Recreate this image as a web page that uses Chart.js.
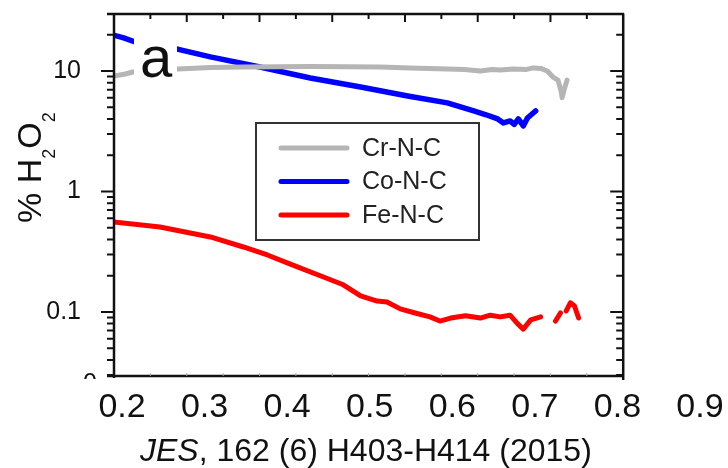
<!DOCTYPE html>
<html>
<head>
<meta charset="utf-8">
<title>% H2O2 vs potential</title>
<script src="https://cdn.jsdelivr.net/npm/chart.js@4.4.1/dist/chart.umd.min.js"></script>
<style>
  html, body { margin: 0; padding: 0; background: #fff; }
  canvas { display: block; }
</style>
</head>
<body>
<canvas id="h2o2Chart" width="728" height="468"></canvas>
<script>
const seriesNames = ["Cr-N-C", "Co-N-C", "Fe-N-C"]
const seriesColors = ["#b5b5b5", "#0000ff", "#ff0000"]

// Cr-N-C
const crX = [0.190, 0.204, 0.213, 0.234, 0.267, 0.307, 0.347, 0.428, 0.513, 0.549, 0.594, 0.615, 0.634, 0.648, 0.658, 0.674, 0.690, 0.698, 0.707, 0.715, 0.722, 0.728, 0.732, 0.733, 0.736, 0.739]
const crY = [9.09, 9.44, 9.81, 10.1, 10.4, 10.7, 10.8, 10.9, 10.8, 10.6, 10.4, 10.3, 10.0, 10.3, 10.2, 10.4, 10.3, 10.6, 10.5, 10.0, 8.9, 8.4, 6.7, 6.0, 7.2, 8.4]

// Co-N-C
const coX = [0.189, 0.202, 0.216, 0.240, 0.267, 0.307, 0.367, 0.428, 0.489, 0.546, 0.594, 0.626, 0.640, 0.655, 0.662, 0.670, 0.675, 0.680, 0.686, 0.691, 0.698, 0.701]
const coY = [19.9, 18.8, 17.4, 16.3, 15.2, 13.1, 10.8, 8.75, 7.36, 6.2, 5.43, 4.66, 4.35, 4.0, 3.7, 3.85, 3.6, 4.0, 3.5, 4.07, 4.48, 4.66]

// Fe-N-C (null = gap in the trace)
const feX = [0.190, 0.246, 0.307, 0.347, 0.376, 0.407, 0.444, 0.468, 0.489, 0.509, 0.521, 0.537, 0.555, 0.573, 0.585, 0.598, 0.616, 0.634, 0.646, 0.658, 0.670, 0.679, 0.686, 0.695, 0.707, 0.715, 0.725, 0.731, 0.734, 0.738, 0.743, 0.748, 0.753]
const feY = [0.558, 0.507, 0.419, 0.346, 0.297, 0.245, 0.195, 0.168, 0.136, 0.123, 0.121, 0.106, 0.098, 0.091, 0.084, 0.089, 0.093, 0.089, 0.094, 0.091, 0.094, 0.080, 0.072, 0.086, 0.091, null, 0.084, 0.098, null, 0.102, 0.119, 0.112, 0.089]

const xTickValues = [0.2, 0.3, 0.4, 0.5, 0.6, 0.7, 0.8, 0.9]
const yTickValues = [0.1, 1, 10]

const FONT = "'Liberation Sans', Arial, Helvetica, sans-serif"
const frameRight = 0.807 // right edge of the plot box, in x units

function toPoints(xs, ys) {
  return xs.map((x, i) => ({ x, y: ys[i] }))
}

const framePlugin = {
  id: "frame",
  afterDatasetsDraw(chart) {
    const ctx = chart.ctx
    // panel letter on a white patch over the curves
    ctx.save()
    ctx.fillStyle = "#fff"
    ctx.fillRect(134, 28, 43, 58)
    ctx.fillStyle = "#111"
    ctx.font = `58px ${FONT}`
    ctx.textBaseline = "alphabetic"
    ctx.fillText("a", 140, 77)
    ctx.restore()
  },
  afterDraw(chart) {
    const { ctx, chartArea, scales } = chart
    const x = scales.x
    const y = scales.y
    const left = chartArea.left
    const top = chartArea.top
    const bottom = chartArea.bottom
    const right = x.getPixelForValue(frameRight)

    ctx.save()
    ctx.strokeStyle = "#111"
    ctx.lineWidth = 2.5
    ctx.beginPath()
    ctx.moveTo(left - 7, top)
    ctx.lineTo(right + 1, top)
    ctx.moveTo(left, top)
    ctx.lineTo(left, bottom + 2)
    ctx.moveTo(right, top)
    ctx.lineTo(right, bottom + 4)
    ctx.moveTo(left - 7, bottom)
    ctx.lineTo(right, bottom)
    ctx.stroke()

    // top ticks (inward)
    ctx.lineWidth = 2
    const step = (right - left) / 14
    for (let k = 1; k < 14; k++) {
      const px = left + k * step
      const len = k % 2 === 0 ? 8 : 5
      ctx.beginPath()
      ctx.moveTo(px, top)
      ctx.lineTo(px, top + len)
      ctx.stroke()
    }

    // faint bottom ticks
    ctx.strokeStyle = "#aaa"
    ctx.lineWidth = 1
    for (let k = 1; k < 14; k++) {
      const px = left + k * step
      ctx.beginPath()
      ctx.moveTo(px, bottom)
      ctx.lineTo(px, bottom - 3)
      ctx.stroke()
    }

    // log ticks, outward on the left and inward on the right
    ctx.strokeStyle = "#111"
    ctx.lineWidth = 2
    for (let e = -2; e <= 1; e++) {
      for (let m = 1; m <= 9; m++) {
        const v = m * Math.pow(10, e)
        if (v < y.min || v > y.max) continue
        const py = y.getPixelForValue(v)
        const len = m === 1 ? 13 : 7
        ctx.beginPath()
        ctx.moveTo(left - len, py)
        ctx.lineTo(left, py)
        ctx.moveTo(right - len, py)
        ctx.lineTo(right, py)
        ctx.stroke()
      }
    }

    // cut-off "0" label at the foot of the axis
    ctx.save()
    ctx.beginPath()
    ctx.rect(0, 0, left, bottom + 3)
    ctx.clip()
    ctx.fillStyle = "#111"
    ctx.font = `25px ${FONT}`
    ctx.textAlign = "right"
    ctx.textBaseline = "middle"
    ctx.fillText("0", 97, bottom + 8)
    ctx.restore()

    // legend
    const lx = 256, ly = 123, lw = 223, lh = 117
    ctx.fillStyle = "#fff"
    ctx.fillRect(lx, ly, lw, lh)
    ctx.strokeStyle = "#333"
    ctx.lineWidth = 2
    ctx.strokeRect(lx, ly, lw, lh)
    chart.data.datasets.forEach((ds, i) => {
      const ry = ly + 25 + i * 33.5
      ctx.strokeStyle = ds.borderColor
      ctx.lineWidth = 5
      ctx.lineCap = "round"
      ctx.beginPath()
      ctx.moveTo(lx + 25, ry)
      ctx.lineTo(lx + 91, ry)
      ctx.stroke()
      ctx.fillStyle = "#222"
      ctx.font = `25px ${FONT}`
      ctx.textAlign = "left"
      ctx.textBaseline = "middle"
      ctx.fillText(ds.label, lx + 106, ry + 1)
    })

    // y title: % H2O2 with subscripts
    ctx.save()
    ctx.translate(41, 223)
    ctx.rotate(-Math.PI / 2)
    ctx.fillStyle = "#111"
    ctx.textAlign = "left"
    ctx.textBaseline = "alphabetic"
    const parts = [["% H", 34, 0], ["2", 18, 14], ["O", 34, 0], ["2", 18, 14]]
    let cx = 0
    parts.forEach(([t, size, dy]) => {
      ctx.font = `${size}px ${FONT}`
      ctx.fillText(t, cx, dy)
      cx += ctx.measureText(t).width
    })
    ctx.restore()

    // source caption
    ctx.fillStyle = "#111"
    ctx.textAlign = "left"
    ctx.textBaseline = "alphabetic"
    ctx.font = `italic 32px ${FONT}`
    ctx.fillText("JES", 140, 461)
    const jw = ctx.measureText("JES").width
    ctx.font = `32px ${FONT}`
    ctx.fillText(", 162 (6) H403-H414 (2015)", 140 + jw, 461)

    ctx.restore()
  },
}

Chart.defaults.font.family = FONT
Chart.defaults.color = "#111"

new Chart(document.getElementById("h2o2Chart"), {
  type: "line",
  data: {
    datasets: [
      { label: seriesNames[0], data: toPoints(crX, crY), borderColor: seriesColors[0], borderWidth: 5 },
      { label: seriesNames[1], data: toPoints(coX, coY), borderColor: seriesColors[1], borderWidth: 5.5 },
      { label: seriesNames[2], data: toPoints(feX, feY), borderColor: seriesColors[2], borderWidth: 5 },
    ].map((ds) => ({
      ...ds,
      pointRadius: 0,
      tension: 0,
      spanGaps: false,
      borderJoinStyle: "round",
      borderCapStyle: "round",
    })),
  },
  options: {
    responsive: false,
    animation: false,
    devicePixelRatio: 1,
    layout: {
      padding: { top: 14, right: 28, bottom: 0, left: 0 },
    },
    plugins: {
      legend: { display: false },
      tooltip: { enabled: false },
    },
    scales: {
      x: {
        type: "linear",
        min: 0.1903,
        max: 0.9,
        afterBuildTicks: (scale) => {
          scale.ticks = xTickValues.map((value) => ({ value }))
        },
        afterFit: (scale) => {
          scale.height = 92
          scale.paddingLeft = 0
          scale.paddingRight = 0
        },
        grid: { display: false },
        border: { display: false },
        ticks: {
          font: { size: 34 },
          color: "#111",
          padding: 3,
          maxRotation: 0,
          callback: (v) => v.toFixed(1),
        },
      },
      y: {
        type: "logarithmic",
        min: 0.0294,
        max: 29.7,
        afterBuildTicks: (scale) => {
          scale.ticks = yTickValues.map((value) => ({ value }))
        },
        afterFit: (scale) => {
          scale.width = 114
          scale.paddingTop = 0
          scale.paddingBottom = 0
        },
        grid: { display: false },
        border: { display: false },
        ticks: {
          font: { size: 25 },
          color: "#111",
          padding: 25,
          callback: (v) => String(v),
        },
      },
    },
  },
  plugins: [framePlugin],
})
</script>
</body>
</html>
